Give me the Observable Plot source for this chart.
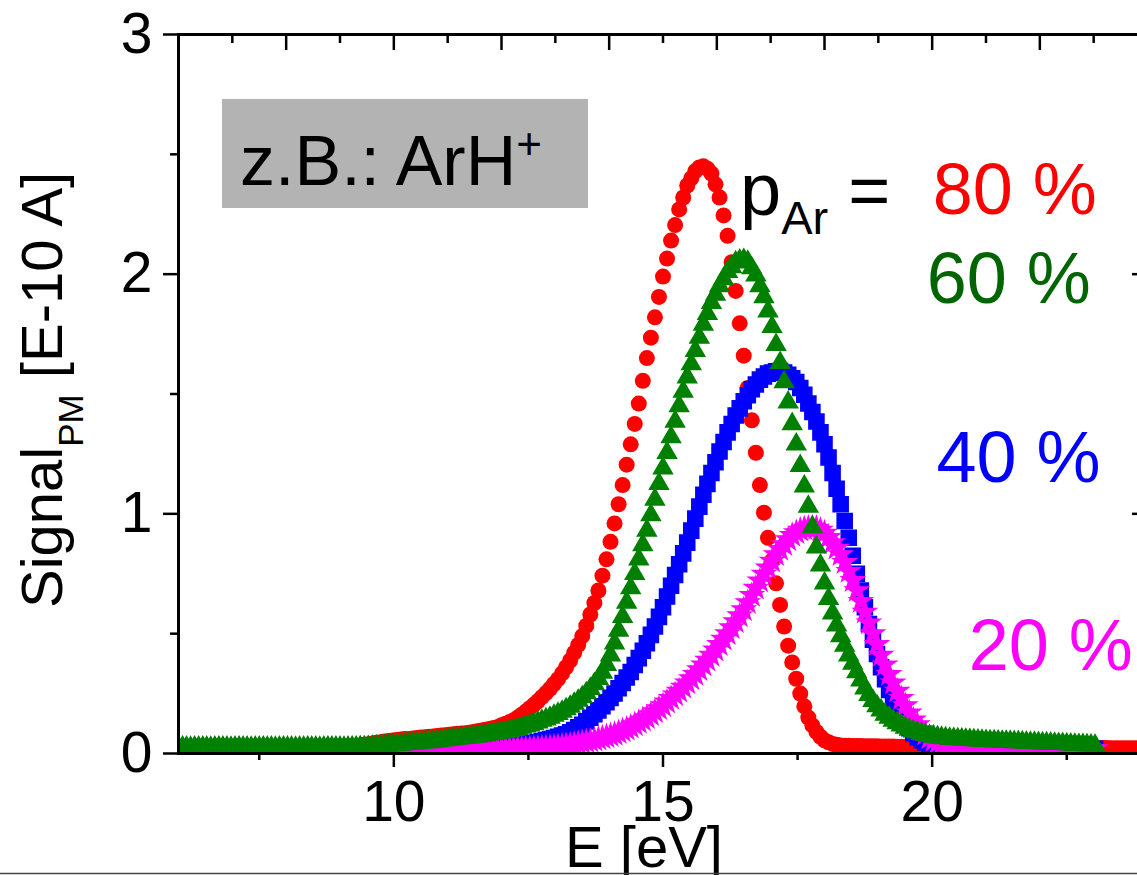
<!DOCTYPE html>
<html><head><meta charset="utf-8">
<script src="https://cdn.jsdelivr.net/npm/d3@7"></script>
<script src="https://cdn.jsdelivr.net/npm/@observablehq/plot@0.6"></script>
<style>
html,body{margin:0;padding:0;overflow:hidden;background:#fff;}
#wrap{width:1137px;height:875px;overflow:hidden;position:relative;}
#wrap svg{max-width:none !important;}
</style></head><body><div id="wrap"></div>
<script>
// Energy grid of the scan (eV)
const E_START = 6, E_STEP = 0.075;

// Signal_PM [E-10 A], p_Ar = 80 %
const red80 = [
0.026,0.025,0.025,0.024,0.025,0.026,0.025,0.025,0.024,0.025,
0.025,0.026,0.025,0.025,0.024,0.025,0.025,0.026,0.025,0.025,
0.024,0.025,0.025,0.026,0.025,0.025,0.024,0.025,0.025,0.026,
0.025,0.025,0.024,0.025,0.025,0.026,0.025,0.025,0.025,0.026,
0.026,
0.026,0.027,0.028,0.030,0.033,0.036,0.039,0.042,0.045,
0.047,0.050,0.052,0.054,0.056,0.058,0.060,0.061,0.063,0.065,
0.067,0.068,0.070,0.071,0.073,0.075,0.076,0.078,0.080,0.082,
0.083,0.085,0.087,0.090,0.093,0.096,0.099,0.102,0.106,0.110,
0.118,0.124,0.131,0.139,0.150,0.162,0.175,0.189,0.203,0.218,
0.235,0.252,0.270,0.290,0.310,0.334,0.360,0.388,0.420,0.453,
0.490,0.533,0.580,0.628,0.680,0.742,0.810,0.883,0.960,1.040,
1.120,1.205,1.290,1.375,1.460,1.555,1.650,1.735,1.820,1.905,
1.990,2.065,2.140,2.205,2.270,2.320,2.370,2.400,2.430,2.445,
2.450,2.440,2.420,2.375,2.320,2.245,2.160,2.050,1.930,1.795,
1.660,1.525,1.390,1.255,1.120,1.005,0.900,0.805,0.710,0.620,
0.530,0.450,0.380,0.312,0.250,0.197,0.150,0.117,0.090,0.070,
0.055,0.047,0.040,0.036,0.033,0.032,0.032,0.031,0.031,0.031,
0.030,0.030,0.030,0.030,0.029,0.029,0.029,0.029,0.028,0.028,
0.028,0.028,0.028,0.027,0.027,0.027,0.027,0.027,0.027,0.026,
0.026,0.026,0.026,0.026,0.026,0.026,0.025,0.025,0.025,0.025,
0.025,0.025,0.025,0.025,0.025,0.025,0.025,0.025,0.025,0.025,
0.025,0.024,0.024,0.024,0.024,0.024,0.024,0.024,0.024,0.024,
0.024,0.023,0.023,0.023,0.023,0.023,0.023,0.023,0.023,0.023,
0.023,0.022,0.022,0.022,0.022,0.022,0.022,0.022,0.022,0.022,0.022
];

// p_Ar = 60 %
const green60 = [
0.025,0.026,0.025,0.024,0.025,0.025,0.026,0.025,0.024,0.025,
0.026,0.025,0.025,0.024,0.025,0.026,0.025,0.025,0.024,0.025,
0.025,0.026,0.025,0.025,0.024,0.025,0.026,0.025,0.025,0.024,
0.025,0.025,0.026,0.025,0.025,0.024,0.025,0.026,0.025,0.025,
0.025,0.024,0.025,0.026,
0.026,0.027,0.027,0.028,0.029,0.030,
0.031,0.032,0.033,0.035,0.036,0.037,0.039,0.040,0.042,0.043,
0.045,0.047,0.048,0.050,0.052,0.054,0.056,0.058,0.060,0.062,
0.064,0.066,0.068,0.070,0.072,0.075,0.077,0.080,0.082,0.085,
0.088,0.091,0.095,0.099,0.103,0.108,0.113,0.118,0.124,0.130,
0.137,0.143,0.150,0.158,0.166,0.175,0.185,0.196,0.208,0.221,
0.235,0.252,0.270,0.290,0.312,0.338,0.370,0.410,0.460,0.513,
0.570,0.630,0.690,0.750,0.810,0.870,0.930,0.995,1.060,1.125,
1.190,1.255,1.320,1.385,1.450,1.510,1.570,1.625,1.680,1.735,
1.790,1.835,1.880,1.915,1.950,1.980,2.010,2.030,2.050,2.057,
2.060,2.052,2.025,1.995,1.950,1.905,1.845,1.780,1.705,1.630,
1.550,1.465,1.375,1.290,1.200,1.115,1.030,0.945,0.860,0.785,
0.710,0.645,0.585,0.535,0.490,0.450,0.410,0.375,0.340,0.305,
0.272,0.245,0.220,0.198,0.180,0.163,0.150,0.137,0.127,0.118,
0.108,0.100,0.093,0.088,0.082,0.078,0.074,0.071,0.068,0.066,
0.064,0.062,0.061,0.060,0.059,0.058,0.057,0.056,0.055,0.054,
0.053,0.052,0.052,0.051,0.050,0.050,0.049,0.048,0.048,0.047,
0.046,0.045,0.045,0.044,0.043,0.043,0.042,0.041,0.040,0.040,
0.039,0.038,0.037,0.036,0.036,0.035,0.034,0.033
];

// p_Ar = 40 %
const blue40 = [
0.020,0.021,0.020,0.019,0.020,0.020,0.021,0.020,0.019,0.020,
0.020,0.021,0.020,0.020,0.019,0.020,0.021,0.020,0.020,0.019,
0.020,0.020,0.021,0.020,0.019,0.020,0.020,0.021,0.020,0.020,
0.019,0.020,0.021,0.020,0.020,0.019,0.020,0.020,0.021,0.020,
0.020,0.019,0.020,0.021,0.020,0.020,0.019,0.020,0.020,0.021,
0.020,0.020,0.019,0.020,0.021,0.020,0.020,0.019,0.020,0.020,
0.021,0.020,0.020,0.019,0.020,0.021,0.020,
0.021,0.021,0.022,0.022,0.023,0.023,0.024,0.025,0.025,0.026,0.027,0.028,0.029,
0.030,0.031,0.033,0.034,0.036,0.038,0.040,0.042,0.045,0.048,
0.052,0.056,0.060,0.065,0.070,0.075,0.080,0.089,0.098,0.109,
0.120,0.134,0.149,0.164,0.180,0.197,0.214,0.232,0.250,0.272,
0.294,0.317,0.340,0.369,0.398,0.429,0.460,0.495,0.530,0.570,
0.610,0.655,0.700,0.745,0.790,0.835,0.880,0.930,0.980,1.030,
1.080,1.125,1.170,1.215,1.260,1.300,1.340,1.375,1.410,1.440,
1.470,1.495,1.520,1.540,1.560,1.573,1.585,1.590,1.595,1.596,
1.590,1.580,1.566,1.550,1.525,1.497,1.460,1.425,1.385,1.340,
1.290,1.235,1.170,1.105,1.040,0.970,0.900,0.825,0.750,0.680,
0.610,0.540,0.475,0.415,0.360,0.310,0.265,0.225,0.190,0.158,
0.130,0.105,0.085,0.068,0.055,0.046,0.039,0.033,0.029,0.026,
0.024,0.023,0.023,0.023,0.023,0.023,0.022,0.022,0.022,0.022,
0.022,0.022,0.022,0.022,0.021,0.021,0.021,0.021,0.021,0.021,
0.021,0.021,0.021,0.020,0.020,0.020,0.020,0.020,0.020,0.020,
0.020,0.020,0.020,0.020,0.020,0.020,0.020,0.020
];

// p_Ar = 20 %
const magenta20 = [
0.015,0.016,0.015,0.014,0.015,0.015,0.016,0.015,0.014,0.015,
0.015,0.016,0.015,0.015,0.014,0.015,0.016,0.015,0.015,0.014,
0.015,0.015,0.016,0.015,0.014,0.015,0.015,0.016,0.015,0.015,
0.014,0.015,0.016,0.015,0.015,0.014,0.015,0.015,0.016,0.015,
0.015,0.015,0.016,0.015,0.015,0.016,0.015,0.015,0.016,0.015,
0.016,0.015,0.016,0.016,0.015,0.016,0.016,0.015,0.016,0.016,
0.016,0.016,0.015,0.016,0.016,0.016,0.017,0.016,0.016,0.016,
0.017,0.016,0.017,0.017,0.016,0.017,0.017,0.017,0.017,0.017,
0.017,0.017,0.018,0.018,0.019,0.019,0.020,0.020,0.021,0.022,
0.023,0.024,0.026,0.027,0.029,0.031,0.034,0.036,0.039,0.042,
0.045,0.049,0.052,0.056,0.060,0.065,0.070,0.075,0.080,0.087,
0.095,0.102,0.110,0.120,0.130,0.140,0.150,0.162,0.175,0.187,
0.200,0.215,0.230,0.245,0.260,0.277,0.295,0.312,0.330,0.350,
0.370,0.390,0.410,0.432,0.455,0.477,0.500,0.525,0.550,0.575,
0.600,0.630,0.660,0.690,0.720,0.748,0.775,0.803,0.830,0.852,
0.872,0.892,0.910,0.922,0.932,0.938,0.940,0.941,0.940,0.932,
0.920,0.902,0.880,0.857,0.830,0.797,0.760,0.722,0.680,0.635,
0.590,0.545,0.500,0.455,0.410,0.370,0.330,0.295,0.260,0.230,
0.200,0.170,0.140,0.120,0.100,0.082,0.065,0.055,0.045,0.040,
0.035,0.032,0.030,0.029,0.028,0.027,0.027,0.026,0.026,0.026,
0.025,0.025,0.025,0.024,0.024,0.024,0.024,0.023,0.023,0.023,
0.023,0.022,0.022,0.022,0.022,0.022,0.021,0.021,0.021,0.021,
0.021,0.021,0.020,0.020,0.020,0.020,0.020,0.020
];

const bottomMajor = [10, 15, 20];
const bottomMinor = [7.5, 12.5, 17.5, 22.5];
const topLong = [8, 10, 12, 14, 16, 18, 20, 22, 24];
const topShort = [7, 9, 11, 13, 15, 17, 19, 21, 23];
const yMajor = [0, 1, 2, 3];
const yMinor = [0.5, 1.5, 2.5];

const labels = [
  {text: "80 %", color: "#ff0000", E: 20.01, S: 2.253},
  {text: "60 %", color: "#006400", E: 19.90, S: 1.878},
  {text: "40 %", color: "#0000ff", E: 20.08, S: 1.131},
  {text: "20 %", color: "#ff00ff", E: 20.68, S: 0.350}
];

const rows = arr => arr.map((S, i) => ({E: E_START + i * E_STEP, S}));

const W = 1160, H = 875, ML = 178, MR = 13, MT = 34, MB = 122;
const innerW = W - ML - MR, innerH = H - MT - MB;
const FONT = "'Liberation Sans', Arial, Helvetica, sans-serif";

const plot = Plot.plot({
  width: W, height: H,
  marginLeft: ML, marginRight: MR, marginTop: MT, marginBottom: MB,
  x: {domain: [6, 24]},
  y: {domain: [0, 3]},
  style: {fontFamily: FONT, background: "white", color: "black", overflow: "visible"},
  marks: [
    Plot.rect([0], {x1: 6.817, x2: 13.616, y1: 2.274, y2: 2.729, fill: "#b3b3b3"}),
    Plot.dot(rows(red80), {x: "E", y: "S", r: 8, symbol: "circle", fill: "#ff0000", clip: true}),
    Plot.dot(rows(blue40), {x: "E", y: "S", r: 8.5, symbol: "square", fill: "#0000ff", stroke: "#0000ff", strokeWidth: 1.5, clip: true}),
    Plot.dot(rows(magenta20), {x: "E", y: "S", r: 7, symbol: "star", fill: "#ff00ff", stroke: "#ff00ff", strokeWidth: 1.5, clip: true}),
    Plot.dot(rows(green60), {x: "E", y: "S", r: 7, symbol: "triangle", fill: "#008000", stroke: "#008000", strokeWidth: 1.5, clip: true}),
    Plot.frame({stroke: "black", strokeWidth: 3}),
    Plot.axisX(bottomMajor, {anchor: "bottom", tickSize: 14, tickPadding: 13, fontSize: 57, strokeWidth: 2.5, label: null, tickFormat: d3.format("d")}),
    Plot.axisX(bottomMinor, {anchor: "bottom", tickSize: 7, strokeWidth: 2.5, tickFormat: () => "", label: null}),
    Plot.axisY(yMajor, {anchor: "left", tickSize: 15, tickPadding: 11, fontSize: 57, strokeWidth: 2.5, label: null, tickFormat: d3.format("d")}),
    Plot.axisY(yMinor, {anchor: "left", tickSize: 8, strokeWidth: 2.5, tickFormat: () => "", label: null}),
    Plot.tickX(topLong, {x: d => d, insetBottom: innerH - 16, strokeWidth: 2.5}),
    Plot.tickX(topShort, {x: d => d, insetBottom: innerH - 9, strokeWidth: 2.5}),
    Plot.tickY(yMajor, {y: d => d, insetLeft: innerW - 15, strokeWidth: 2.5}),
    Plot.tickY(yMinor, {y: d => d, insetLeft: innerW - 8, strokeWidth: 2.5}),
    Plot.text(labels, {x: "E", y: "S", text: "text", fill: "color", fontSize: 72, textAnchor: "start", lineAnchor: "bottom"})
  ]
});
plot.style.maxWidth = "none";

const sx = plot.scale("x"), sy = plot.scale("y");
const svg = d3.select(plot);
const g = svg.append("g").attr("font-family", FONT).attr("fill", "black").attr("text-anchor", "start");

// box label
const t1 = g.append("text").attr("x", sx.apply(7.152)).attr("y", sy.apply(2.370)).attr("font-size", 70);
t1.append("tspan").text("z.B.: ArH");
t1.append("tspan").attr("font-size", 44).attr("dy", -26).text("+");

// p_Ar =
const t2 = g.append("text").attr("x", sx.apply(16.44)).attr("y", sy.apply(2.245)).attr("font-size", 74);
t2.append("tspan").text("p");
t2.append("tspan").attr("font-size", 47).attr("dy", 19).text("Ar");
t2.append("tspan").attr("dy", -19).attr("font-size", 72).text(" =");

// y axis title
const yt = g.append("text").attr("transform", `translate(62,608) rotate(-90)`).attr("font-size", 58);
yt.append("tspan").text("Signal");
yt.append("tspan").attr("font-size", 35).attr("dy", 21).text("PM");
yt.append("tspan").attr("dy", -21).text(" [E-10 A]");

// x axis title
g.append("text").attr("x", 565).attr("y", 867).attr("font-size", 58).text("E [eV]");

// bottom border line of the image
svg.append("line").attr("x1", 0).attr("x2", W).attr("y1", 873.5).attr("y2", 873.5)
  .attr("stroke", "#444").attr("stroke-width", 1.5);

document.getElementById("wrap").appendChild(plot);
</script>
</body></html>
